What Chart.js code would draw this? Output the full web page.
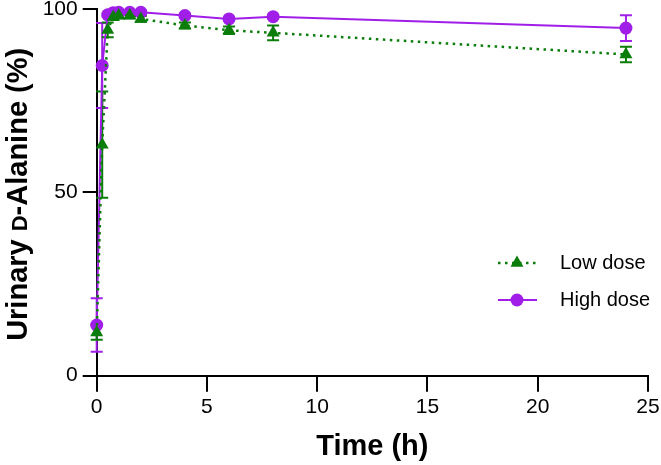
<!DOCTYPE html>
<html>
<head>
<meta charset="utf-8">
<script src="https://cdn.jsdelivr.net/npm/chart.js@4/dist/chart.umd.min.js"></script>
<style>
  html, body { margin: 0; padding: 0; background: #fff; }
  #wrap { width: 661px; height: 465px; }
</style>
</head>
<body>
<div id="wrap"><canvas id="alaChart"></canvas></div>
<script>
// sampling times (h)
const times = [0, 0.25, 0.5, 0.75, 1, 1.5, 2, 4, 6, 8, 24];

// urinary D-Ala (%), mean and error
const lowDose = [11.8, 63, 94.3, 97.8, 98.2, 98.2, 97.3, 95.5, 94.2, 93.5, 87.6];
const lowErr = [2, 14.5, 2, 0.8, 0.8, 0.8, 0.8, 0.8, 1, 2, 2.1];
const highDose = [13.8, 84.6, 98.4, 99.0, 99.1, 99.1, 99.1, 98.2, 97.3, 97.9, 94.8];
const highErr = [7.3, 11.6, 0.5, 0.5, 0.5, 0.5, 0.5, 0.5, 0.5, 0.5, 3.5];

const xTicks = [0, 5, 10, 15, 20, 25];
const yTicks = [0, 50, 100];

// y title, the "D" is set in small caps like the original
const yTitleParts = [['Urinary ', 29], ['D', 22], ['-Alanine (%)', 29]];

const GREEN = '#0b7d0b';
const PURPLE = '#a11ee8';
const FONT = "'Liberation Sans', Arial, sans-serif";

const toPoints = (ys) => ys.map((y, i) => ({ x: times[i], y: y }));

// error bars, drawn under the markers
const errorBars = {
  id: 'errorBars',
  beforeDatasetsDraw(chart) {
    const { ctx, scales: { x, y } } = chart;
    ctx.save();
    ctx.lineWidth = 2;
    chart.data.datasets.slice().reverse().forEach(ds => {
      ctx.strokeStyle = ds.borderColor;
      ds.data.forEach((p, i) => {
        const e = ds.errors[i];
        const px = x.getPixelForValue(p.x);
        const top = y.getPixelForValue(p.y + e);
        const bot = y.getPixelForValue(p.y - e);
        ctx.beginPath();
        ctx.moveTo(px, top); ctx.lineTo(px, bot);
        ctx.moveTo(px - 6, top); ctx.lineTo(px + 6, top);
        ctx.moveTo(px - 6, bot); ctx.lineTo(px + 6, bot);
        ctx.stroke();
      });
    });
    ctx.restore();
  }
};

// rotated y title with mixed sizes
const yTitle = {
  id: 'yTitle',
  afterDraw(chart) {
    const { ctx, chartArea } = chart;
    ctx.save();
    ctx.translate(16.5, (chartArea.top + chartArea.bottom) / 2 + 2);
    ctx.rotate(-Math.PI / 2);
    ctx.fillStyle = '#000';
    ctx.textBaseline = 'alphabetic';
    ctx.textAlign = 'left';
    let total = 0;
    yTitleParts.forEach(([t, s]) => {
      ctx.font = 'bold ' + s + 'px ' + FONT;
      total += ctx.measureText(t).width;
    });
    let pos = -total / 2;
    yTitleParts.forEach(([t, s]) => {
      ctx.font = 'bold ' + s + 'px ' + FONT;
      ctx.fillText(t, pos, 10);
      pos += ctx.measureText(t).width;
    });
    ctx.restore();
  }
};

// legend inside the plot, line + marker sample
const insideLegend = {
  id: 'insideLegend',
  afterDraw(chart) {
    const { ctx } = chart;
    const rows = [263, 300];
    ctx.save();
    chart.data.datasets.forEach((ds, i) => {
      const yy = rows[i];
      ctx.strokeStyle = ds.borderColor;
      ctx.lineWidth = ds.borderWidth;
      ctx.setLineDash(ds.borderDash || []);
      ctx.beginPath();
      ctx.moveTo(498, yy); ctx.lineTo(537, yy);
      ctx.stroke();
      ctx.setLineDash([]);
      ctx.fillStyle = ds.pointBackgroundColor;
      ctx.strokeStyle = ds.pointBackgroundColor;
      Chart.helpers.drawPoint(ctx, {
        pointStyle: ds.pointStyle, radius: ds.pointRadius, rotation: 0, borderWidth: 0
      }, 517, yy);
      ctx.fillStyle = '#000';
      ctx.font = '20px ' + FONT;
      ctx.textBaseline = 'middle';
      ctx.textAlign = 'left';
      ctx.fillText(ds.label, 560, yy);
    });
    ctx.restore();
  }
};

const ctx = document.getElementById('alaChart').getContext('2d');
const chart = new Chart(ctx, {
  type: 'line',
  data: {
    datasets: [{
      label: 'Low dose',
      data: toPoints(lowDose),
      errors: lowErr,
      borderColor: GREEN,
      backgroundColor: GREEN,
      pointBackgroundColor: GREEN,
      pointBorderColor: GREEN,
      borderWidth: 2.5,
      borderDash: [2.5, 4.5],
      pointStyle: 'triangle',
      pointRadius: 7.5,
      pointBorderWidth: 0,
      tension: 0,
      clip: false
    }, {
      label: 'High dose',
      data: toPoints(highDose),
      errors: highErr,
      borderColor: PURPLE,
      backgroundColor: PURPLE,
      pointBackgroundColor: PURPLE,
      pointBorderColor: PURPLE,
      borderWidth: 2,
      pointStyle: 'circle',
      pointRadius: 6.5,
      pointBorderWidth: 0,
      tension: 0,
      clip: false
    }]
  },
  options: {
    responsive: true,
    maintainAspectRatio: false,
    animation: false,
    events: [],
    layout: { padding: { top: 9, right: 13, left: 0, bottom: 0 } },
    plugins: {
      legend: { display: false },
      tooltip: { enabled: false }
    },
    scales: {
      x: {
        type: 'linear',
        min: 0,
        max: 25,
        afterBuildTicks: (s) => { s.ticks = xTicks.map(v => ({ value: v })); },
        afterFit: (s) => { s.height = 89.3; s.paddingLeft = 0; s.paddingRight = 0; },
        border: { color: '#000', width: 2 },
        grid: { drawOnChartArea: false, drawTicks: true, tickLength: 16, color: '#000', lineWidth: 2 },
        ticks: { color: '#000', padding: 3, maxRotation: 0, font: { family: FONT, size: 21 } },
        title: {
          display: true, text: 'Time (h)', color: '#000',
          padding: { top: 0, bottom: 4 },
          font: { family: FONT, size: 29, weight: 'bold', lineHeight: 1 }
        }
      },
      y: {
        min: 0,
        max: 100,
        afterBuildTicks: (s) => { s.ticks = yTicks.map(v => ({ value: v })); },
        afterFit: (s) => { s.width = 96.7; s.paddingTop = 0; s.paddingBottom = 0; },
        border: { color: '#000', width: 2 },
        grid: { drawOnChartArea: false, drawTicks: true, tickLength: 14, color: '#000', lineWidth: 2 },
        ticks: { color: '#000', padding: 5, font: { family: FONT, size: 21 } },
        title: { display: false }
      }
    }
  },
  plugins: [errorBars, yTitle, insideLegend]
});
</script>
</body>
</html>
